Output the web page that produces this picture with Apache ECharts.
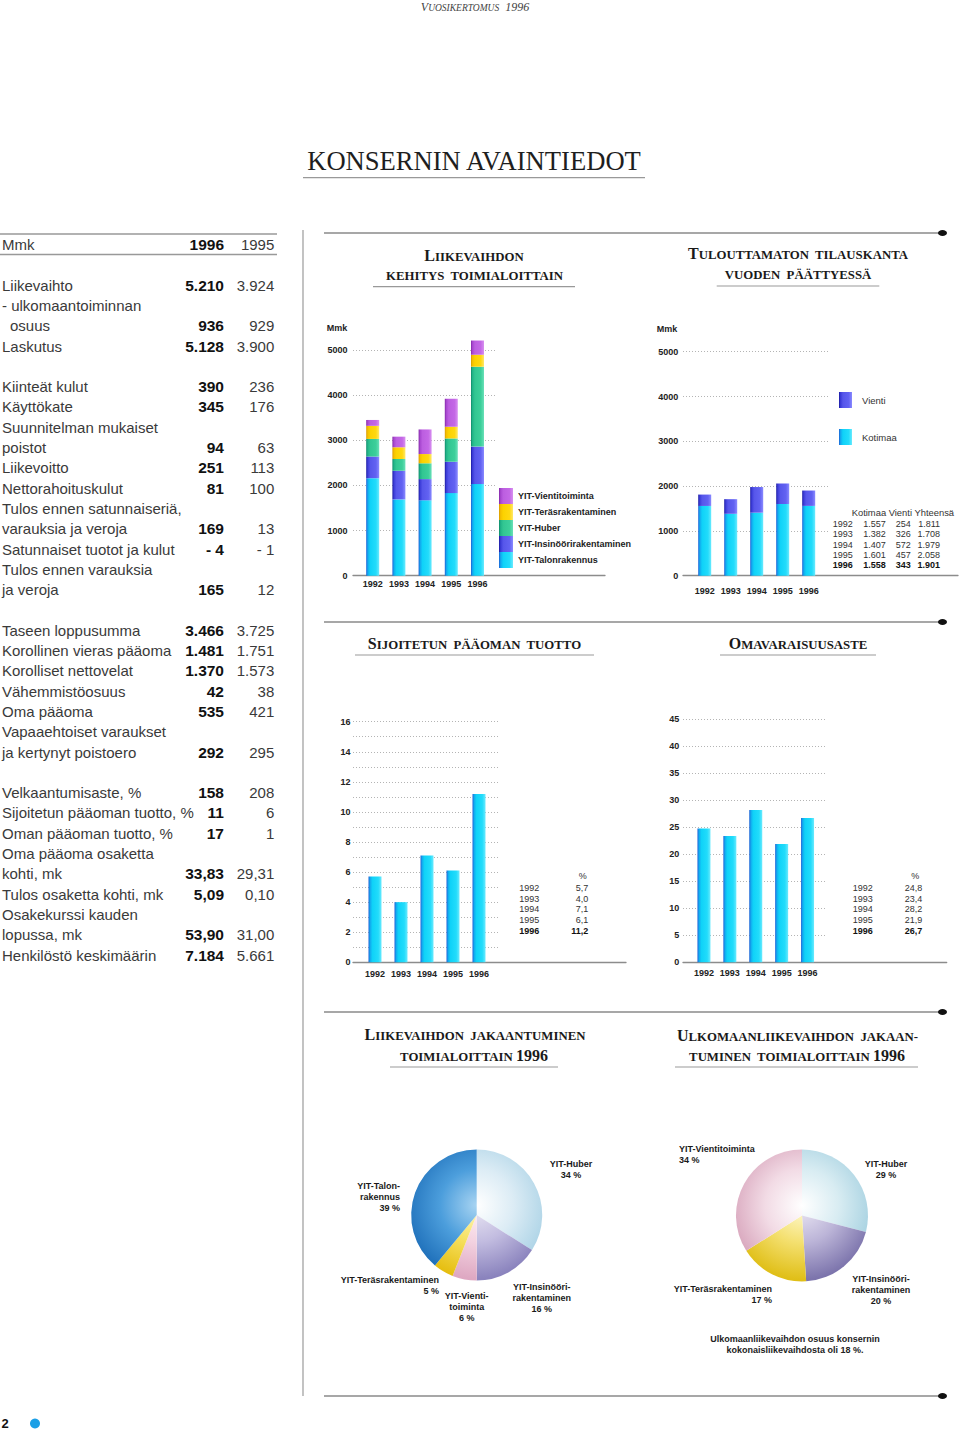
<!DOCTYPE html>
<html><head><meta charset="utf-8">
<script src="https://cdn.jsdelivr.net/npm/echarts@6/dist/echarts.min.js"></script>
<style>html,body{margin:0;padding:0;background:#fff}#main{width:960px;height:1432px}</style>
</head><body><div id="main"></div>
<script>
// ---------------- DATA ----------------
const years = ['1992', '1993', '1994', '1995', '1996'];

// Liikevaihdon kehitys toimialoittain (Mmk)
const segNames = ['YIT-Talonrakennus', 'YIT-Insinöörirakentaminen', 'YIT-Huber', 'YIT-Teräsrakentaminen', 'YIT-Vientitoiminta'];
const talonrakennus = [2160, 1690, 1670, 1830, 2030];
const insinoorirakentaminen = [480, 635, 470, 695, 830];
const huber = [390, 260, 350, 515, 1770];
const terasrakentaminen = [290, 260, 205, 260, 265];
const vientitoiminta = [130, 235, 545, 620, 315];

// Tilauskanta (Mmk)
const kotimaa = [1557, 1382, 1407, 1601, 1558];
const vienti = [254, 326, 572, 457, 343];
const yhteensa = [1811, 1708, 1979, 2058, 1901];

// Sijoitetun pääoman tuotto (%)
const roi = [5.7, 4.0, 7.1, 6.1, 11.2];
// Omavaraisuusaste (%)
const equityRatio = [24.8, 23.4, 28.2, 21.9, 26.7];

// Pie 1: liikevaihdon jakaantuminen 1996 (%)
const pie1Names = ['YIT-Huber', 'YIT-Insinöörirakentaminen', 'YIT-Vientitoiminta', 'YIT-Teräsrakentaminen', 'YIT-Talonrakennus'];
const pie1Labels = ['YIT-Huber', 'YIT-Insinööri-\nrakentaminen', 'YIT-Vienti-\ntoiminta', 'YIT-Teräsrakentaminen', 'YIT-Talon-\nrakennus'];
const pie1Values = [34, 16, 6, 5, 39];

// Pie 2: ulkomaanliikevaihdon jakaantuminen 1996 (%)
const pie2Names = ['YIT-Huber', 'YIT-Insinöörirakentaminen', 'YIT-Teräsrakentaminen', 'YIT-Vientitoiminta'];
const pie2Labels = ['YIT-Huber', 'YIT-Insinööri-\nrakentaminen', 'YIT-Teräsrakentaminen', 'YIT-Vientitoiminta'];
const pie2Values = [29, 20, 17, 34];

// Key figures table
const kfLabels = ['Mmk', null, 'Liikevaihto', '- ulkomaantoiminnan', 'osuus', 'Laskutus', null,
  'Kiinteät kulut', 'Käyttökate', 'Suunnitelman mukaiset', 'poistot', 'Liikevoitto', 'Nettorahoituskulut',
  'Tulos ennen satunnaiseriä,', 'varauksia ja veroja', 'Satunnaiset tuotot ja kulut', 'Tulos ennen varauksia', 'ja veroja', null,
  'Taseen loppusumma', 'Korollinen vieras pääoma', 'Korolliset nettovelat', 'Vähemmistöosuus', 'Oma pääoma',
  'Vapaaehtoiset varaukset', 'ja kertynyt poistoero', null,
  'Velkaantumisaste, %', 'Sijoitetun pääoman tuotto, %', 'Oman pääoman tuotto, %', 'Oma pääoma osaketta', 'kohti, mk',
  'Tulos osaketta kohti, mk', 'Osakekurssi kauden', 'lopussa, mk', 'Henkilöstö keskimäärin'];
const kf1996 = ['1996', '', '5.210', '', '936', '5.128', '', '390', '345', '', '94', '251', '81', '', '169', '- 4', '', '165', '',
  '3.466', '1.481', '1.370', '42', '535', '', '292', '', '158', '11', '17', '', '33,83', '5,09', '', '53,90', '7.184'];
const kf1995 = ['1995', '', '3.924', '', '929', '3.900', '', '236', '176', '', '63', '113', '100', '', '13', '- 1', '', '12', '',
  '3.725', '1.751', '1.573', '38', '421', '', '295', '', '208', '6', '1', '', '29,31', '0,10', '', '31,00', '5.661'];

// ---------------- STYLE / LAYOUT ----------------
const SANS = 'Liberation Sans, Arial, Helvetica, sans-serif';
const SERIF = 'Liberation Serif, Times New Roman, serif';

function lin(stops) {
  return { type: 'linear', x: 0, y: 0, x2: 1, y2: 0, colorStops: stops.map(s => ({ offset: s[0], color: s[1] })) };
}
const C_CYAN = lin([[0, '#1d5fd6'], [0.12, '#12a8ee'], [0.3, '#0fd2f8'], [0.75, '#22dcfb'], [1, '#6aeafe']]);
const C_BLUE = lin([[0, '#1a1aa0'], [0.12, '#3c3cd8'], [0.3, '#5656ea'], [0.75, '#6262f2'], [1, '#8a8aff']]);
const C_GREEN = lin([[0, '#0d8a68'], [0.12, '#22b488'], [0.3, '#32c692'], [0.75, '#3ccf9a'], [1, '#6ae0b8']]);
const C_YELLOW = lin([[0, '#d89a00'], [0.12, '#f4c000'], [0.3, '#fcd200'], [0.75, '#ffd810'], [1, '#ffe868']]);
const C_VIOLET = lin([[0, '#8428a8'], [0.12, '#a848d0'], [0.3, '#bc5ee0'], [0.75, '#c468e6'], [1, '#d890f0']]);

const grids = [], xAxes = [], yAxes = [], series = [];

function addChart(c, seriesList) {
  const top = c.top, h = c.bottom - c.top;
  let gi = grids.length;
  grids.push({ left: c.axisLeft, top: top, width: c.axisRight - c.axisLeft, height: h, outerBoundsMode: 'none' });
  xAxes.push({ gridIndex: gi, type: 'value', min: 0, max: 1, show: false });
  yAxes.push({
    gridIndex: gi, type: 'value', min: c.min, max: c.max, interval: c.interval,
    axisLine: { show: false }, axisTick: { show: false },
    axisLabel: { margin: c.yLabelMargin, fontFamily: SANS, fontWeight: 'bold', fontSize: 9, color: '#222',
      formatter: v => (Math.round(v) % c.labelStep === 0 ? String(Math.round(v)) : '') },
    splitLine: { show: true, lineStyle: { color: '#b4b4b4', width: 1, type: [1, 2] } }
  });
  gi = grids.length;
  grids.push({ left: c.axisLeft, top: top, width: c.baseRight - c.axisLeft, height: h, outerBoundsMode: 'none' });
  xAxes.push({ gridIndex: gi, type: 'value', min: 0, max: 1,
    axisLine: { show: true, onZero: false, lineStyle: { color: '#8c8c8c', width: 1.3 } },
    axisTick: { show: false }, axisLabel: { show: false }, splitLine: { show: false } });
  yAxes.push({ gridIndex: gi, type: 'value', min: c.min, max: c.max, show: false });
  gi = grids.length;
  grids.push({ left: c.bandLeft, top: top, width: c.bandWidth * years.length, height: h, outerBoundsMode: 'none' });
  xAxes.push({ gridIndex: gi, type: 'category', data: years, axisLine: { show: false }, axisTick: { show: false },
    axisLabel: { interval: 0, margin: c.xLabelMargin, fontFamily: SANS, fontWeight: 'bold', fontSize: 9, color: '#222' } });
  yAxes.push({ gridIndex: gi, type: 'value', min: c.min, max: c.max, show: false });
  seriesList.forEach(s => { s.xAxisIndex = gi; s.yAxisIndex = gi; series.push(s); });
}

function bar(name, data, color, stack) {
  return { type: 'bar', name: name, data: data, stack: stack, barWidth: 13, clip: false, silent: true,
    itemStyle: { color: color, borderWidth: 0 }, emphasis: { disabled: true } };
}

// Chart 1: stacked turnover by division
addChart({ axisLeft: 353, axisRight: 495, baseRight: 605, bandLeft: 359.6, bandWidth: 26.2, top: 350, bottom: 575.7,
  min: 0, max: 5000, interval: 1000, labelStep: 1000, yLabelMargin: 5.5, xLabelMargin: 4 }, [
  bar(segNames[0], talonrakennus, C_CYAN, 'lv'),
  bar(segNames[1], insinoorirakentaminen, C_BLUE, 'lv'),
  bar(segNames[2], huber, C_GREEN, 'lv'),
  bar(segNames[3], terasrakentaminen, C_YELLOW, 'lv'),
  bar(segNames[4], vientitoiminta, C_VIOLET, 'lv')
]);
// Chart 2: order backlog
addChart({ axisLeft: 683, axisRight: 828, baseRight: 958, bandLeft: 691.7, bandWidth: 26, top: 351.7, bottom: 575.7,
  min: 0, max: 5000, interval: 1000, labelStep: 1000, yLabelMargin: 4.7, xLabelMargin: 11 }, [
  bar('Kotimaa', kotimaa, C_CYAN, 'tk'),
  bar('Vienti', vienti, C_BLUE, 'tk')
]);
// Chart 3: ROI
addChart({ axisLeft: 353, axisRight: 500, baseRight: 626, bandLeft: 362, bandWidth: 26, top: 721.7, bottom: 962.3,
  min: 0, max: 16, interval: 1, labelStep: 2, yLabelMargin: 2.6, xLabelMargin: 7.5 }, [
  bar('Sijoitetun pääoman tuotto', roi, C_CYAN)
]);
// Chart 4: equity ratio
addChart({ axisLeft: 683, axisRight: 826.7, baseRight: 946.7, bandLeft: 691, bandWidth: 25.9, top: 719.3, bottom: 962.3,
  min: 0, max: 45, interval: 5, labelStep: 5, yLabelMargin: 3.7, xLabelMargin: 6.5 }, [
  bar('Omavaraisuusaste', equityRatio, C_CYAN)
]);

// Pies
function radial(cx, cy, r, stops) {
  return { type: 'radial', x: cx, y: cy - r * 0.15, r: r * 1.12, global: true,
    colorStops: stops.map((c, i) => ({ offset: [0, 0.5, 1][i], color: c })) };
}
const P1 = { cx: 476.7, cy: 1215, r: 65.5 };
const P2 = { cx: 802, cy: 1215.5, r: 66 };
const pie1Colors = [
  ['#ffffff', '#dcecf5', '#acd3e6'],
  ['#ebe8f4', '#c2bce0', '#8a83bd'],
  ['#fff2f6', '#f3d2e0', '#dea8c2'],
  ['#fff8c8', '#f6e060', '#e6be10'],
  ['#a8d4f2', '#4c9edc', '#1f70ba']
];
const pie2Colors = [
  ['#ffffff', '#d8ecf2', '#a4d0e0'],
  ['#ece8f4', '#bcb5d8', '#7c74ac'],
  ['#fffbd8', '#f4e070', '#e0bf18'],
  ['#ffffff', '#f2dbe5', '#d8a5bc']
];
const pie1LabelPos = [[571, 1158.5, 'center'], [541.7, 1281.5, 'center'], [466.7, 1290.5, 'center'], [439, 1274.5, 'right'], [400, 1180.5, 'right']];
const pie2LabelPos = [[886, 1158.5, 'center'], [881, 1273.5, 'center'], [772, 1283.5, 'right'], [679, 1143.5, 'left']];

function pie(P, names, labels, values, colors, pos) {
  return {
    type: 'pie', center: [P.cx, P.cy], radius: P.r, startAngle: 90, clockwise: true, avoidLabelOverlap: false,
    silent: true, emphasis: { disabled: true },
    data: names.map((n, i) => ({ name: n, value: values[i],
      itemStyle: { color: radial(P.cx, P.cy, P.r, colors[i]), borderWidth: 0 } })),
    label: { show: true, position: 'outside', formatter: p => labels[p.dataIndex] + '\n' + p.value + ' %',
      fontFamily: SANS, fontWeight: 'bold', fontSize: 9, lineHeight: 10.8, color: '#1a1a1a' },
    labelLine: { show: false },
    labelLayout: p => ({ x: pos[p.dataIndex][0], y: pos[p.dataIndex][1], align: pos[p.dataIndex][2], verticalAlign: 'top' })
  };
}
series.push(pie(P1, pie1Names, pie1Labels, pie1Values, pie1Colors, pie1LabelPos));
series.push(pie(P2, pie2Names, pie2Labels, pie2Values, pie2Colors, pie2LabelPos));

// ---------------- GRAPHIC (page frame & texts) ----------------
const g = [];
function line(x1, y1, x2, y2, color, w) {
  g.push({ type: 'line', silent: true, shape: { x1, y1, x2, y2 }, style: { stroke: color || '#8c8c8c', lineWidth: w || 1.3 } });
}
function text(x, y, str, opt) {
  g.push({ type: 'text', silent: true, x: x, y: y,
    style: Object.assign({ text: str, fill: '#222', fontFamily: SANS, fontSize: 9, align: 'left', verticalAlign: 'middle' }, opt || {}) });
}
function dotRule(y) {
  line(324, y, 940, y, '#8a8a8a', 1.4);
  g.push({ type: 'ellipse', silent: true, shape: { cx: 942.5, cy: y, rx: 4.5, ry: 3 }, style: { fill: '#111' } });
}
const scRich = {
  a: { fontFamily: SERIF, fontWeight: 'bold', fontSize: 16, fill: '#1a1a1a', verticalAlign: 'bottom' },
  b: { fontFamily: SERIF, fontWeight: 'bold', fontSize: 12.8, fill: '#1a1a1a', verticalAlign: 'bottom' }
};
function scText(x, y, str) { text(x, y, str, { align: 'center', rich: scRich }); }

// header
text(475, 7, '{a|V}{b|UOSIKERTOMUS}{a|  1996}', { align: 'center', rich: {
  a: { fontFamily: SERIF, fontStyle: 'italic', fontSize: 12, fill: '#444', verticalAlign: 'bottom' },
  b: { fontFamily: SERIF, fontStyle: 'italic', fontSize: 9.5, fill: '#444', verticalAlign: 'bottom' } } });
// main title
text(474, 161, 'KONSERNIN AVAINTIEDOT', { align: 'center', fontFamily: SERIF, fontSize: 26.6, fill: '#1e1e1e' });
line(303, 177.7, 645, 177.7, '#999', 1.3);

// frame lines
line(303, 230, 303, 1396, '#9a9a9a', 1.2);
dotRule(233); dotRule(622); dotRule(1012); dotRule(1396);

// key figures table
line(0, 234, 277, 234, '#999', 1.5);
line(0, 254.5, 277, 254.5, '#999', 1.5);
kfLabels.forEach((lab, k) => {
  if (lab === null) return;
  const y = 244.5 + 20.3 * k;
  const indent = (lab === 'osuus') ? 10 : 2;
  text(indent, y, lab, { fontSize: 15, fill: '#3a3a3a' });
  if (kf1996[k]) text(224, y, kf1996[k], { fontSize: 15.5, fontWeight: 'bold', fill: '#111', align: 'right' });
  if (kf1995[k]) text(274.3, y, kf1995[k], { fontSize: 15, fill: '#3a3a3a', align: 'right' });
});

// chart titles
scText(474, 255, '{a|L}{b|IIKEVAIHDON}');
scText(474.5, 275.7, '{b|KEHITYS  TOIMIALOITTAIN}');
line(373, 286.7, 575, 286.7, '#999', 1.2);
scText(798, 253.3, '{a|T}{b|ULOUTTAMATON  TILAUSKANTA}');
scText(798, 275, '{b|VUODEN  PÄÄTTYESSÄ}');
line(716.7, 286, 879.3, 286, '#999', 1.2);
scText(474.5, 643, '{a|S}{b|IJOITETUN  PÄÄOMAN  TUOTTO}');
line(355, 655, 594, 655, '#999', 1.2);
scText(798, 643, '{a|O}{b|MAVARAISUUSASTE}');
line(720, 655, 876, 655, '#999', 1.2);
scText(475, 1034, '{a|L}{b|IIKEVAIHDON  JAKAANTUMINEN}');
scText(474, 1055, '{b|TOIMIALOITTAIN }{a|1996}');
line(390, 1067, 558, 1067, '#999', 1.2);
scText(797.5, 1035, '{a|U}{b|LKOMAANLIIKEVAIHDON  JAKAAN-}');
scText(797, 1055, '{b|TUMINEN  TOIMIALOITTAIN }{a|1996}');
line(675, 1067, 918, 1067, '#999', 1.2);

// axis unit labels
text(326.7, 327.7, 'Mmk', { fontWeight: 'bold', fontSize: 9 });
text(656.7, 329.3, 'Mmk', { fontWeight: 'bold', fontSize: 9 });

// order backlog table
function thousands(n) { return n >= 1000 ? Math.floor(n / 1000) + '.' + String(n % 1000).padStart(3, '0') : String(n); }
text(851.7, 512.5, 'Kotimaa Vienti Yhteensä', { fontSize: 9.4, fill: '#333' });
years.forEach((yr, i) => {
  const y = 523.7 + 10.4 * i;
  const o = i === years.length - 1 ? { fontWeight: 'bold', fill: '#111' } : { fill: '#333' };
  text(832.7, y, yr, Object.assign({ fontSize: 9 }, o));
  text(885.7, y, thousands(kotimaa[i]), Object.assign({ fontSize: 9, align: 'right' }, o));
  text(910.7, y, thousands(vienti[i]), Object.assign({ fontSize: 9, align: 'right' }, o));
  text(940, y, thousands(yhteensa[i]), Object.assign({ fontSize: 9, align: 'right' }, o));
});

// percent tables
function pctTable(yearX, valRight, pctX, vals) {
  text(pctX, 876, '%', { fontSize: 9, fill: '#333', align: 'center' });
  years.forEach((yr, i) => {
    const y = 887.7 + 10.8 * i;
    const o = i === years.length - 1 ? { fontWeight: 'bold', fill: '#111' } : { fill: '#333' };
    text(yearX, y, yr, Object.assign({ fontSize: 9 }, o));
    text(valRight, y, vals[i].toFixed(1).replace('.', ','), Object.assign({ fontSize: 9, align: 'right' }, o));
  });
}
pctTable(519.3, 588.3, 582.7, roi);
pctTable(852.7, 922.3, 915.3, equityRatio);

// footnote
text(795, 1339, 'Ulkomaanliikevaihdon osuus konsernin', { fontWeight: 'bold', fontSize: 9, align: 'center' });
text(795, 1350, 'kokonaisliikevaihdosta oli 18 %.', { fontWeight: 'bold', fontSize: 9, align: 'center' });

// page number
text(1.5, 1423.5, '2', { fontWeight: 'bold', fontSize: 13, fill: '#111' });
g.push({ type: 'circle', silent: true, shape: { cx: 35, cy: 1423.5, r: 5 }, style: { fill: '#1b9fe6' } });

const option = {
  animation: false,
  backgroundColor: '#ffffff',
  grid: grids, xAxis: xAxes, yAxis: yAxes, series: series,
  legend: [
    { left: 499, top: 488, orient: 'vertical', padding: 0, itemWidth: 14, itemHeight: 16, itemGap: 0, icon: 'rect',
      selectedMode: false, data: segNames.slice().reverse(),
      textStyle: { fontFamily: SANS, fontWeight: 'bold', fontSize: 9, color: '#222' } },
    { left: 839, top: 392, orient: 'vertical', padding: 0, itemWidth: 13, itemHeight: 16, itemGap: 21, icon: 'rect',
      selectedMode: false, data: ['Vienti', 'Kotimaa'],
      textStyle: { fontFamily: SANS, fontSize: 9.5, color: '#333', padding: [0, 0, 0, 5] } }
  ],
  graphic: { elements: g }
};
const chart = echarts.init(document.getElementById('main'), null, { renderer: 'svg', width: 960, height: 1432 });
chart.setOption(option);
</script></body></html>
